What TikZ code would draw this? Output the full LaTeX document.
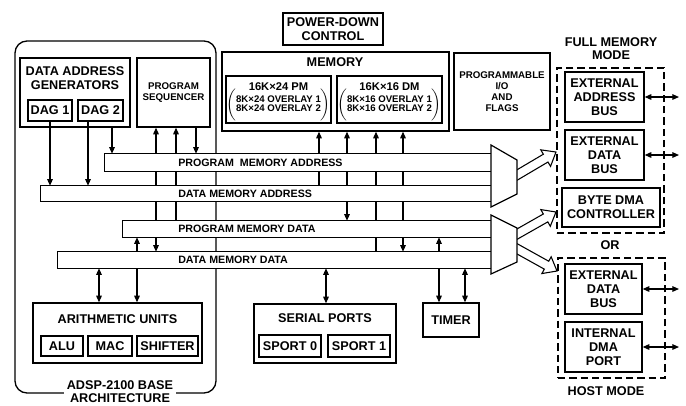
\documentclass[tikz,border=0pt]{standalone}
\usepackage{fontspec}
\setmainfont{Liberation Sans}
\usetikzlibrary{calc,fit,arrows.meta}
\newcommand\fatarr[2]{%
  \coordinate (fh) at ($(#2)!9pt!(#1)$);
  \draw[fill=white, line width=0.8pt, line join=miter]
    ($(#1)!3.4pt!90:(#2)$) -- ($(fh)!3.4pt!90:(#2)$) -- ($(fh)!7.2pt!90:(#2)$) -- (#2)
    -- ($(fh)!7.2pt!-90:(#2)$) -- ($(fh)!3.4pt!-90:(#2)$) -- ($(#1)!3.4pt!-90:(#2)$) -- cycle;}
% box by left, top, right, bottom (pixels) and name
\newcommand\bx[6][]{\node[box,#1,minimum width={(#4-#2)*0.75pt},minimum height={(#5-#3)*0.75pt}] (#6) at ({(#2+#4)/2},{(#3+#5)/2})}
\newcommand\ovltext[2]{$\bigg(\vcenter{\hbox{\begin{tabular}{@{}c@{}}#1\\#2\end{tabular}}}\bigg)$}
\begin{document}
\begin{tikzpicture}[x=0.75pt,y=-0.75pt,
 box/.style={draw, line width=1pt, inner sep=0pt},
 bus/.style={draw, fill=white, line width=0.9pt, inner sep=0pt},
 dbox/.style={draw, dash pattern=on 5.5pt off 3pt, line width=0.9pt, inner sep=0pt},
 big/.style={font=\bfseries\fontsize{9.5}{10.5}\selectfont, align=center, inner sep=0pt},
 mid/.style={font=\bfseries\fontsize{8}{9}\selectfont, inner sep=0pt},
 sml/.style={font=\bfseries\fontsize{7.3}{8.1}\selectfont, align=center, inner sep=0pt},
 hd/.style={font=\bfseries\fontsize{8.4}{9}\selectfont, inner sep=0pt},
 ovl/.style={font=\bfseries\fontsize{7.2}{6.6}\selectfont, inner sep=0pt},
 conn/.style={line width=0.9pt, -{Triangle[length=5pt,width=4.2pt]}},
 dconn/.style={line width=0.9pt, {Triangle[length=5pt,width=4.2pt]}-{Triangle[length=5pt,width=4.2pt]}},
 mux/.style={draw, fill=white, line width=0.9pt, line join=miter}
]
\useasboundingbox (0,0) rectangle (686,405);

% base architecture frame
\bx[rounded corners=9pt]{15}{41}{216}{393}{base} {};
\node[big, fill=white, inner xsep=2pt, font=\bfseries\fontsize{9.5}{9.8}\selectfont] (baseT) at (120,392) {ADSP-2100 BASE\\ARCHITECTURE};

% data address generators
\bx{20}{58}{130}{127}{dag} {};
\node[big] (dagT) at (75,78.5) {DATA ADDRESS\\GENERATORS};
\bx[big]{28}{100}{72}{121}{dag1} {DAG 1};
\bx[big]{78}{100}{123}{121}{dag2} {DAG 2};

% program sequencer
\bx[sml]{137}{58}{210}{127}{seq} {PROGRAM\\SEQUENCER};

% power-down control
\bx[big]{283}{13}{383}{45}{pdc} {POWER-DOWN\\CONTROL};

% memory
\bx{222}{52}{449}{131}{mem} {};
\node[big] (memT) at (335,62) {MEMORY};
\bx{226}{76}{331}{123}{pm} {};
\node[hd] (pmT) at (278.5,87) {16K×24 PM};
\node[ovl] (pmO) at (278.5,104.5) {\ovltext{8K×24 OVERLAY 1}{8K×24 OVERLAY 2}};
\bx{337}{76}{442}{123}{dm} {};
\node[hd] (dmT) at (389.5,87) {16K×16 DM};
\node[ovl] (dmO) at (389.5,104.5) {\ovltext{8K×16 OVERLAY 1}{8K×16 OVERLAY 2}};

% programmable I/O
\bx[sml]{454}{53}{550}{130}{pio} {PROGRAMMABLE\\I/O\\AND\\FLAGS};

% arithmetic units
\bx{33}{303}{202}{363}{arith} {};
\node[big] (arithT) at (117.5,319) {ARITHMETIC UNITS};
\bx[big]{41}{336}{83}{356}{alu} {ALU};
\bx[big]{88}{336}{132}{356}{mac} {MAC};
\bx[big]{137}{336}{198}{356}{shf} {SHIFTER};

% serial ports
\bx{254}{304}{396}{363}{ser} {};
\node[big] (serT) at (325,318) {SERIAL PORTS};
\bx[big]{259}{335}{321}{357}{sp0} {SPORT 0};
\bx[big]{328}{335}{390}{357}{sp1} {SPORT 1};

% timer
\bx[big]{423}{303}{479}{337}{timer} {TIMER};

% bus extents
\node[inner sep=0pt, fit={(105,154)(491,171)}] (pmab) {};
\node[inner sep=0pt, fit={(41,186)(491,201)}] (dmab) {};
\node[inner sep=0pt, fit={(123,221)(491,237)}] (pmdb) {};
\node[inner sep=0pt, fit={(58,252)(491,268)}] (dmdb) {};

% vertical connectors (drawn beneath the buses)
\draw[conn] (dag1.south) -- (dag1.south |- dmab.north);
\draw[conn] (88,0 |- dag2.south) -- (88,0 |- dmab.north);
\draw[conn] (112,0 |- dag.south) -- (112,0 |- pmab.north);
\draw[dconn] (156,0 |- dmdb.north) -- (156,0 |- seq.south);
\draw[conn] (176,0 |- pmdb.north) -- (176,0 |- seq.south);
\draw[conn] (196,0 |- seq.south) -- (196,0 |- pmab.north);
\draw[conn] (319,0 |- dmab.north) -- (319,0 |- mem.south);
\draw[dconn] (347,0 |- pmdb.north) -- (347,0 |- mem.south);
\draw[conn] (376,0 |- dmdb.north) -- (376,0 |- mem.south);
\draw[dconn] (403,0 |- dmdb.north) -- (403,0 |- mem.south);
\draw[dconn] (99,0 |- dmdb.south) -- (99,0 |- arith.north);
\draw[dconn] (137,0 |- pmdb.south) -- (137,0 |- arith.north);
\draw[dconn] (326,0 |- dmdb.south) -- (326,0 |- ser.north);
\draw[dconn] (439,0 |- pmdb.south) -- (439,0 |- timer.north);
\draw[dconn] (465,0 |- dmdb.south) -- (465,0 |- timer.north);

% buses
\draw[bus] (pmab.north west) rectangle (pmab.south east);
\draw[bus] (dmab.north west) rectangle (dmab.south east);
\draw[bus] (pmdb.north west) rectangle (pmdb.south east);
\draw[bus] (dmdb.north west) rectangle (dmdb.south east);
\node[mid, anchor=west] (pmabT) at (178,162.5) {PROGRAM\ \ MEMORY ADDRESS};
\node[mid, anchor=west] (dmabT) at (178,193.5) {DATA MEMORY ADDRESS};
\node[mid, anchor=west] (pmdbT) at (178,229) {PROGRAM MEMORY DATA};
\node[mid, anchor=west] (dmdbT) at (178,260) {DATA MEMORY DATA};

% full memory mode
\node[dbox, fit={(557,68)(664,233)}] (fmm) {};
\node[big, font=\bfseries\fontsize{9.5}{9.8}\selectfont] (fmmT) at (611,48.5) {FULL MEMORY\\MODE};
\bx[big]{565}{72}{644}{122}{eab} {EXTERNAL\\ADDRESS\\BUS};
\bx[big]{565}{130}{644}{180}{edb} {EXTERNAL\\DATA\\BUS};
\bx[big]{562}{188}{660}{227}{bdma} {BYTE DMA\\CONTROLLER};
\node[big] (orT) at (610,245) {OR};

% host mode
\node[dbox, fit={(558,258)(665,378)}] (hm) {};
\node[big] (hmT) at (606,391) {HOST MODE};
\bx[big]{565}{264}{642}{314}{hedb} {EXTERNAL\\DATA\\BUS};
\bx[big]{565}{322}{642}{372}{idma} {INTERNAL\\DMA\\PORT};

\coordinate (xr) at (679,0);
\draw[dconn] (eab.east) -- (eab.east -| xr);
\draw[dconn] (edb.east) -- (edb.east -| xr);
\draw[dconn] (hedb.east) -- (hedb.east -| xr);
\draw[dconn] (idma.east) -- (idma.east -| xr);

% hollow arrows from the multiplexers
\coordinate (a1s) at (512,178);
\coordinate (a1t) at (556,152);
\coordinate (a2s) at (512,237);
\coordinate (a2t) at (556,212);
\coordinate (a3s) at (512,246);
\coordinate (a3t) at (557,271);
\fatarr{a1s}{a1t}
\fatarr{a2s}{a2t}
\fatarr{a3s}{a3t}

% multiplexers
\draw[mux] (491,145) -- (517,160) -- (517,194) -- (491,207) -- cycle;
\draw[mux] (491,215) -- (517,228) -- (517,262) -- (491,274) -- cycle;
\end{tikzpicture}
\end{document}
